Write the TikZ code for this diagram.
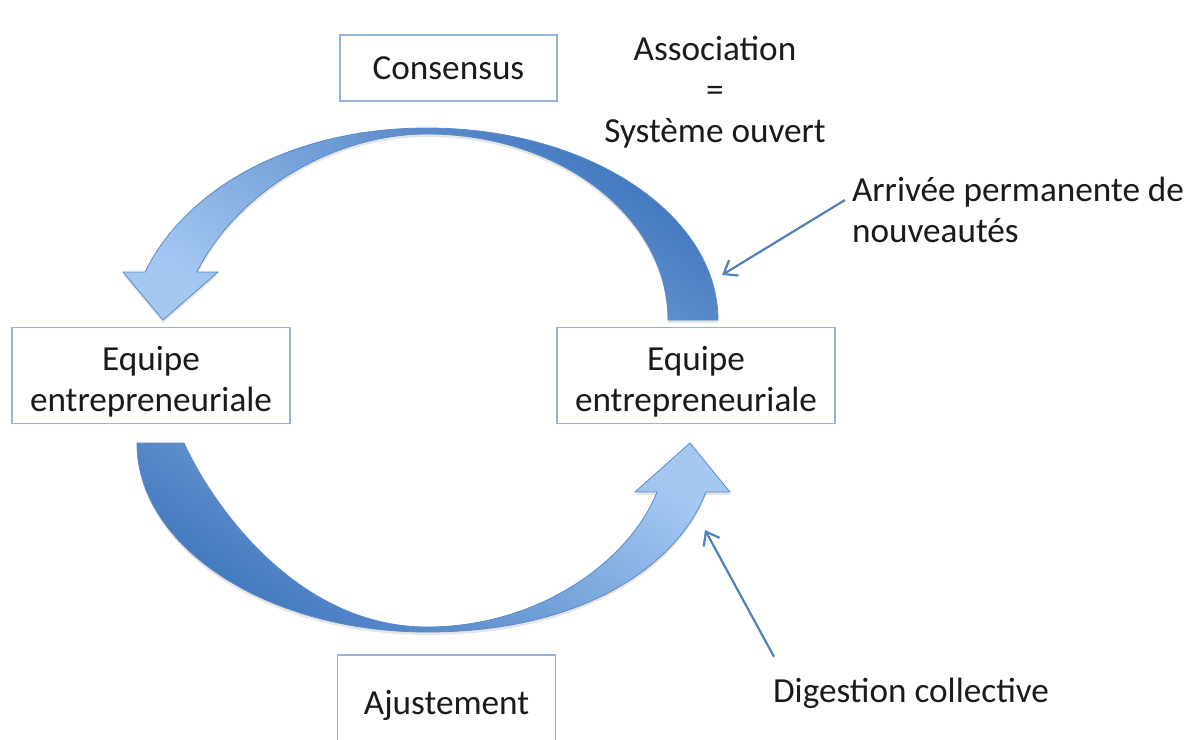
\documentclass[tikz,border=0pt]{standalone}
\usepackage{fontspec}
\setmainfont{Carlito}
\usepackage{tikz}
\usetikzlibrary{positioning,arrows.meta,shadows}
\definecolor{boxline}{HTML}{95B3D7}
\definecolor{pointblue}{HTML}{4F81BD}
\definecolor{arcdark}{HTML}{3D74BC}
\definecolor{arcmid}{HTML}{5F9BDC}
\definecolor{arclight}{HTML}{A4C8F2}
\definecolor{arcedge}{HTML}{5A8AC8}
\definecolor{textgrey}{HTML}{1A1A1A}

\begin{document}
\begin{tikzpicture}[x=0.5pt,y=-0.5pt,
			box/.style={rectangle, draw=boxline, line width=0.8pt, fill=white, text=textgrey, align=center, font=\fontsize{17.6}{20.5}\selectfont},
			note/.style={text=textgrey, font=\fontsize{17.6}{20.5}\selectfont},
			pointer/.style={draw=pointblue, line width=1.1pt, -{Straight Barb[length=6pt,width=9pt]}},
			curved/.style={draw=arcedge, line width=0.4pt, drop shadow={opacity=0.2, shadow xshift=0pt, shadow yshift=-1.5pt}},
			]
			%Frame
				\path[use as bounding box, fill=white] (0,0) rectangle (1196,740);

			%Curved arrows
				\draw[curved, top color=arcdark, middle color=arcmid, bottom color=arclight, shading angle=-35] (718,320) .. controls (718,214) and (588,128) .. (427,128)
					.. controls (290,128) and (185,190) .. (145,272) -- (123,272) -- (163,320) -- (218,272) -- (197,272)
					.. controls (235,195) and (330,134) .. (427,134) .. controls (560,134) and (668,217) .. (668,320) -- cycle;
				\draw[curved, top color=arclight, middle color=arcmid, bottom color=arcdark, shading angle=-35] (137,443) .. controls (137,547) and (267,632) .. (427,632)
					.. controls (590,632) and (680,560) .. (706,492) -- (730,492) -- (690,443) -- (635,492) -- (657,492)
					.. controls (630,560) and (540,627) .. (427,627) .. controls (300,627) and (215,510) .. (184,443) -- cycle;

			%Nodes
				\node[box, minimum width=108.5pt, minimum height=33pt]		(consensus)		at (448.5,68)		{Consensus};
				\node[box, minimum width=139pt, minimum height=42.5pt]		(team-left)		at (151,375.5)		{\rule{0pt}{18pt}Equipe\\entrepreneuriale};
				\node[box, minimum width=139pt, minimum height=42.5pt]		(team-right)	at (696,375.5)		{\rule{0pt}{18pt}Equipe\\entrepreneuriale};
				\node[box, minimum width=109pt, minimum height=50pt]		(adjust)		at (446.5,705)		{Ajustement};
				\node[note, align=center]									(assoc)			at (715,92)			{Association\\=\\Système ouvert};
				\node[note, align=left, anchor=west]						(arrivee)		at (845,210)		{Arrivée permanente de\\nouveautés};
				\node[note]													(digestion)		at (911,693)		{Digestion collective};
				\coordinate (hit-top)		at (722,275);
				\coordinate (hit-bottom)	at (705,530);

			%Lines
				\draw[pointer] ([yshift=5pt]arrivee.west) -- (hit-top);
				\draw[pointer] ([shift={(4pt,7pt)}]digestion.north west) -- (hit-bottom);
		\end{tikzpicture}
\end{document}
